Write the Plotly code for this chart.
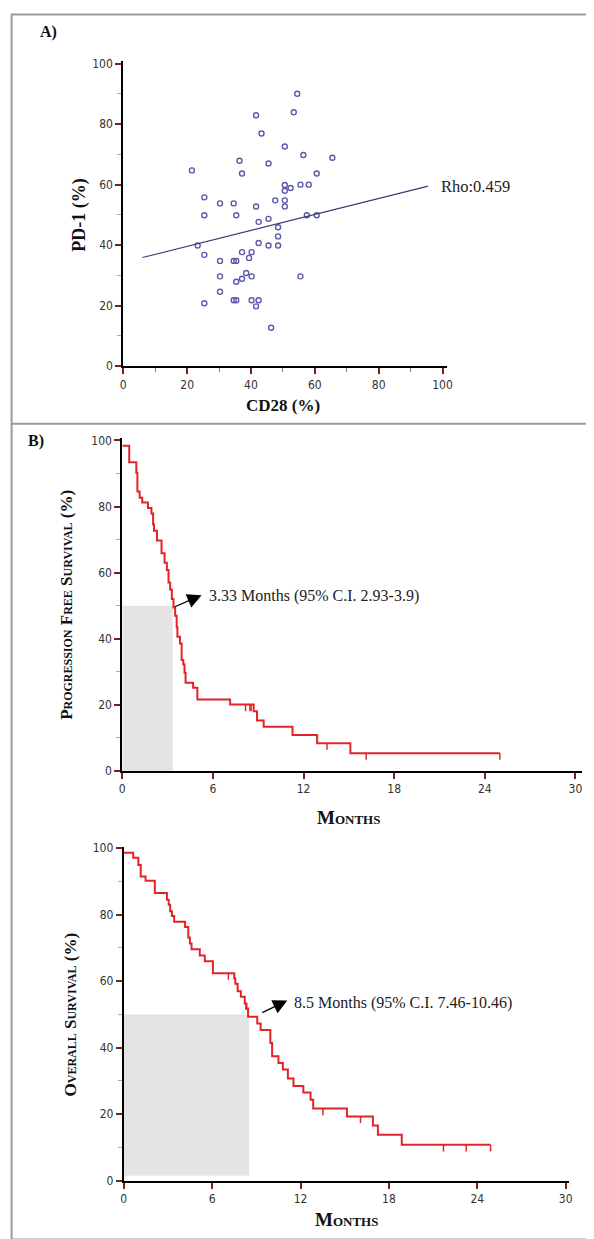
import plotly.graph_objects as go

W, H = 594, 1239

# ---------------- Data ----------------
cd28 = [54.5, 41.6, 53.4, 43.3, 50.6, 36.4, 56.4, 45.5, 65.5, 21.5, 37.2, 60.6,
        50.6, 50.6, 52.4, 55.5, 58.1, 25.4, 30.3, 34.6, 41.6, 47.6, 50.6, 50.6,
        25.4, 35.4, 57.5, 60.6, 42.4, 45.5, 48.5, 48.5, 23.3, 42.4, 45.5, 48.5,
        25.4, 37.2, 40.2, 39.4, 30.3, 34.6, 35.4, 30.3, 38.5, 37.2, 35.4, 40.2,
        55.5, 30.3, 25.4, 34.6, 35.4, 40.2, 42.4, 41.6, 46.3]
pd1 = [90.0, 82.9, 83.9, 76.9, 72.6, 67.9, 69.8, 67.0, 68.9, 64.7, 63.7, 63.7,
       59.9, 58.0, 58.9, 60.0, 60.0, 55.8, 53.8, 53.8, 52.8, 54.8, 54.8, 52.8,
       49.9, 49.9, 49.9, 49.9, 47.7, 48.7, 45.9, 42.9, 39.9, 40.7, 39.9, 39.9,
       36.8, 37.7, 37.7, 35.8, 34.8, 34.8, 34.8, 29.7, 30.8, 28.9, 27.9, 29.7,
       29.7, 24.6, 20.8, 21.8, 21.8, 21.8, 21.8, 19.8, 12.7]
reg_x = [6.0, 95.5]
reg_y = [35.9, 59.5]
rho_label = "Rho:0.459"

pfs_t = [0, 0.46, 0.93, 1.0, 1.15, 1.32, 1.7, 1.93, 2.04, 2.1,
         2.3, 2.6, 2.8, 2.95, 3.06, 3.17, 3.28, 3.39, 3.5, 3.6,
         3.65, 3.82, 3.93, 4.04, 4.12, 4.19, 4.69, 4.97, 7.14, 8.7,
         8.92, 9.36, 11.27, 12.9, 15.1, 25.0]
pfs_s = [98.4, 93.4, 90.2, 84.6, 82.7, 81.2, 79.6, 77.9, 74.6, 72.7,
         69.7, 65.9, 63.0, 60.8, 57.0, 54.9, 52.0, 49.5, 47.0, 43.5,
         40.6, 38.6, 33.6, 32.2, 29.7, 26.7, 25.2, 21.6, 20.1, 18.1,
         15.3, 13.4, 10.9, 8.4, 5.4, 5.4]
pfs_cens_t = [8.16, 8.45, 8.53, 13.55, 16.15, 25.0]
pfs_cens_s = [20.1, 20.1, 20.1, 8.4, 5.4, 5.4]
pfs_median = 3.33
pfs_label = "3.33 Months (95% C.I. 2.93-3.9)"

os_t = [0, 0.64, 0.99, 1.15, 1.48, 2.11, 2.93, 3.05, 3.15, 3.27,
        3.42, 4.16, 4.38, 4.49, 4.6, 5.16, 5.5, 6.05, 7.5, 7.57,
        7.73, 7.95, 8.21, 8.33, 8.44, 9.06, 9.29, 9.95, 10.07, 10.5,
        10.8, 11.14, 11.52, 12.19, 12.68, 12.86, 15.15, 16.91, 17.25, 18.87,
        24.9]
os_s = [98.6, 97.1, 94.9, 91.5, 90.2, 86.5, 84.5, 83.0, 81.0, 79.6,
        77.9, 76.3, 73.1, 71.3, 69.6, 67.7, 66.0, 62.4, 60.8, 59.2,
        57.0, 55.3, 53.3, 51.8, 49.3, 47.3, 45.3, 41.4, 37.4, 35.4,
        33.4, 30.7, 28.5, 26.5, 24.3, 21.7, 19.3, 16.6, 13.8, 10.8,
        10.8]
os_cens_t = [7.1, 8.3, 13.52, 16.07, 21.7, 23.25, 24.9]
os_cens_s = [62.4, 53.3, 21.7, 19.3, 10.8, 10.8, 10.8]
os_median = 8.5
os_label = "8.5 Months (95% C.I. 7.46-10.46)"

scatter_ticks = [0, 20, 40, 60, 80, 100]
month_ticks = [0, 6, 12, 18, 24, 30]
pct_ticks = [0, 20, 40, 60, 80, 100]

# ---------------- Styles ----------------
RED = "#e3232a"
BLUE = "#5a5aa8"
TICKRED = "#7a1f1f"
SERIF = "Liberation Serif, DejaVu Serif, serif"
TICKFONT = dict(family="DejaVu Sans Condensed, Liberation Sans Narrow, sans-serif", size=12, color="#333")


def px(x):
    return x / W


def py(y):
    return 1 - y / H


fig = go.Figure()

# Scatter panel
fig.add_trace(go.Scatter(x=cd28, y=pd1, mode="markers", xaxis="x", yaxis="y",
                         marker=dict(symbol="circle-open", size=5, color=BLUE, line=dict(width=1.4, color=BLUE)),
                         cliponaxis=False))
fig.add_trace(go.Scatter(x=reg_x, y=reg_y, mode="lines", xaxis="x", yaxis="y",
                         line=dict(color="#3b3b7a", width=1.1)))

# KM panels
for t, s, ct, cs, xa, ya in [(pfs_t, pfs_s, pfs_cens_t, pfs_cens_s, "x2", "y2"),
                              (os_t, os_s, os_cens_t, os_cens_s, "x3", "y3")]:
    fig.add_trace(go.Scatter(x=t, y=s, mode="lines", line_shape="hv", xaxis=xa, yaxis=ya,
                             line=dict(color=RED, width=2)))
    fig.add_trace(go.Scatter(x=ct, y=cs, mode="markers", xaxis=xa, yaxis=ya,
                             marker=dict(size=1, color=RED, opacity=0),
                             error_y=dict(type="constant", value=0, valueminus=2.0, symmetric=False,
                                          width=0, color=RED, thickness=1.5)))

axis_common = dict(showline=True, linecolor="black", linewidth=2, showgrid=False, zeroline=False,
                   ticks="outside", ticklen=6, tickwidth=2, tickcolor=TICKRED, tickfont=TICKFONT)

fig.update_layout(
    width=W, height=H, margin=dict(l=0, r=0, t=0, b=0),
    paper_bgcolor="white", plot_bgcolor="white", showlegend=False,
    xaxis=dict(domain=[px(114), px(443)], range=[0, 101.5], tickvals=scatter_ticks, anchor="y",
               minor=dict(dtick=10, ticks="outside", ticklen=4, tickcolor="#9a6a6a", tickwidth=1), **axis_common),
    yaxis=dict(domain=[py(356), py(47)], range=[0, 101], tickvals=scatter_ticks, anchor="x",
               minor=dict(dtick=10, ticks="outside", ticklen=4, tickcolor="#aaa", tickwidth=1), **axis_common),
    xaxis2=dict(domain=[px(113), px(580)], range=[0, 30.45], tickvals=month_ticks, anchor="y2", **axis_common),
    yaxis2=dict(domain=[py(765), py(428)], range=[0, 100.9], tickvals=pct_ticks, anchor="x2",
                minor=dict(dtick=10, ticks="outside", ticklen=4, tickcolor="#aaa", tickwidth=1), **axis_common),
    xaxis3=dict(domain=[px(114.5), px(567)], range=[0, 30.25], tickvals=month_ticks, anchor="y3", **axis_common),
    yaxis3=dict(domain=[py(1179), py(842)], range=[0, 100.3], tickvals=pct_ticks, anchor="x3",
                minor=dict(dtick=10, ticks="outside", ticklen=4, tickcolor="#aaa", tickwidth=1), **axis_common),
)

shapes = [
    dict(type="rect", xref="paper", yref="paper", x0=0.001, x1=0.999, y0=0.0005, y1=0.9995,
         line=dict(color="#9a9a9a", width=2), layer="above"),
    dict(type="line", xref="paper", yref="paper", x0=0, x1=1, y0=py(414), y1=py(414),
         line=dict(color="#9a9a9a", width=2)),
    dict(type="rect", xref="x2", yref="y2", x0=0, x1=pfs_median, y0=0, y1=50,
         fillcolor="#e3e4e3", line=dict(width=0), layer="below"),
    dict(type="rect", xref="x3", yref="y3", x0=0, x1=os_median, y0=1.5, y1=50,
         fillcolor="#e3e4e3", line=dict(width=0), layer="below"),
]
fig.update_layout(shapes=shapes)

bold_serif = dict(family=SERIF, color="#111")
ann = [
    dict(text="<b>A)</b>", x=px(27), y=py(18), xanchor="left", font=dict(size=16, **bold_serif)),
    dict(text="<b>B)</b>", x=px(15), y=py(432), xanchor="left", font=dict(size=16, **bold_serif)),
    dict(text="<b>PD-1 (%)</b>", x=px(70), y=py(203), textangle=-90, font=dict(size=18, **bold_serif)),
    dict(text="<b>CD28 (%)</b>", x=px(276), y=py(396), font=dict(size=17, **bold_serif)),
    dict(text="<b>Progression Free Survival (%)</b>", x=px(57), y=py(597), textangle=-90,
         font=dict(size=17, variant="small-caps", **bold_serif)),
    dict(text="<b>Months</b>", x=px(343), y=py(812), font=dict(size=19, variant="small-caps", **bold_serif)),
    dict(text="<b>Overall Survival (%)</b>", x=px(60), y=py(1011), textangle=-90,
         font=dict(size=17, variant="small-caps", **bold_serif)),
    dict(text="<b>Months</b>", x=px(341), y=py(1218), font=dict(size=19, variant="small-caps", **bold_serif)),
]
for a in ann:
    a.setdefault("xanchor", "center")
    a.update(xref="paper", yref="paper", showarrow=False, yanchor="middle")

ann += [
    dict(text=rho_label, xref="x", yref="y", x=reg_x[1] + 3.5, y=reg_y[1], xanchor="left", yanchor="middle",
         showarrow=False, font=dict(family=SERIF, size=16.5, color="#222")),
    dict(text=pfs_label, xref="x2", yref="y2", x=5.6, y=53, xanchor="left", yanchor="middle",
         showarrow=False, font=dict(family=SERIF, size=16, color="#222")),
    dict(text="", xref="x2", yref="y2", x=5.25, y=53.2, axref="x2", ayref="y2", ax=pfs_median + 0.05, ay=49.5,
         showarrow=True, arrowhead=2, arrowsize=2.2, arrowwidth=1.3, arrowcolor="black"),
    dict(text=os_label, xref="x3", yref="y3", x=11.45, y=53.5, xanchor="left", yanchor="middle",
         showarrow=False, font=dict(family=SERIF, size=16, color="#222")),
    dict(text="", xref="x3", yref="y3", x=11.1, y=54.2, axref="x3", ayref="y3", ax=9.3, ay=50.3,
         showarrow=True, arrowhead=2, arrowsize=2.2, arrowwidth=1.3, arrowcolor="black"),
]
fig.update_layout(annotations=ann)

fig.write_html("out.html")
